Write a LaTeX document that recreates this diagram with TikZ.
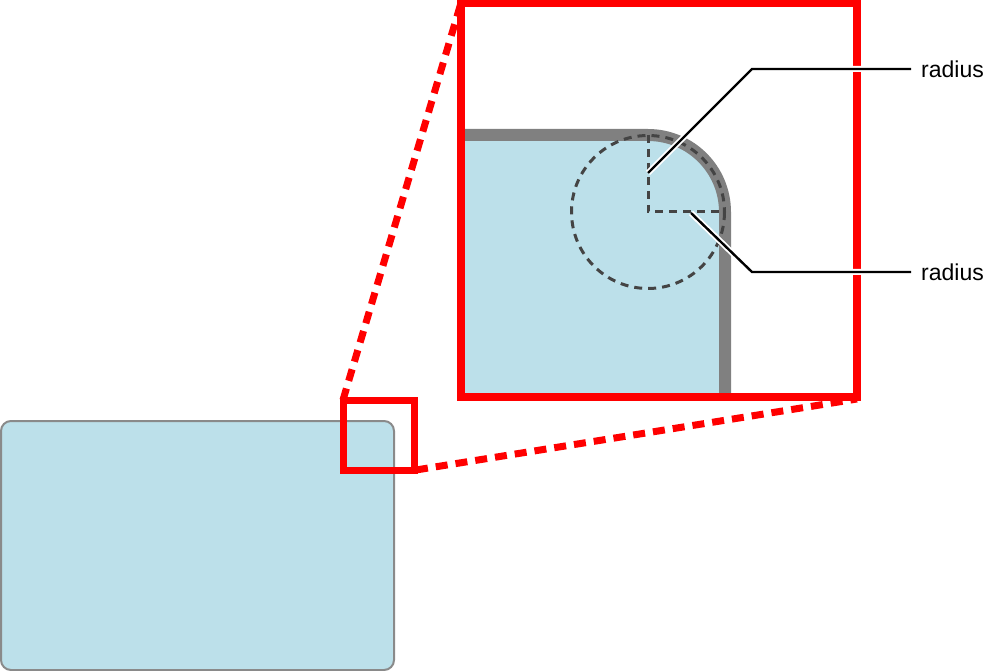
\documentclass[tikz,border=0pt]{standalone}
\usepackage{fontspec}
\setmainfont{Liberation Sans}
\definecolor{paleblue}{HTML}{BCE0EA}
\definecolor{edgegray}{HTML}{808080}
\definecolor{thingray}{HTML}{8A8A8A}
\definecolor{dashgray}{HTML}{444444}
\definecolor{zoomred}{HTML}{FF0000}
\tikzset{
  framebox/.style={draw=zoomred, line width=7.5pt},
  smallframe/.style={draw=zoomred, line width=7pt},
  zoomlink/.style={draw=zoomred, line width=7pt, dash pattern=on 12pt off 8pt},
  radiusdash/.style={draw=dashgray, line width=3pt, dash pattern=on 8pt off 6pt},
  leader/.style={preaction={draw=white, line width=6pt}, draw=black, line width=2.4pt},
  lbl/.style={font=\fontsize{23}{27}\selectfont, inner sep=0pt, anchor=west}
}
\begin{document}
\begin{tikzpicture}[x=1pt,y=-1pt]
\useasboundingbox (0,0) rectangle (986,671);
% small rounded rectangle
\draw[fill=paleblue, draw=thingray, line width=2pt, rounded corners=10pt] (1,421) rectangle (394,670);
% magnified corner
\begin{scope}
  \clip (461,3) rectangle (857,397);
  \fill[paleblue] (440,135) -- (648,135) .. controls (690.5,135) and (725,169.5) .. (725,212) -- (725,420) -- (440,420) -- cycle;
  \draw[edgegray, line width=12pt] (440,135) -- (648,135) .. controls (690.5,135) and (725,169.5) .. (725,212) -- (725,420);
\end{scope}
\coordinate (ctr) at (648,212);
\coordinate (top) at (648,135);
\coordinate (rgt) at (725,212);
\draw[radiusdash] (ctr) circle[radius=76.5];
\draw[radiusdash] (top) -- (ctr) -- (rgt);
% frames
\draw[framebox] (461,3) rectangle (857,397);
\draw[smallframe] (343,400) rectangle (414,470);
\coordinate (bigTL) at (461,3);
\coordinate (bigBR) at (857,399);
\coordinate (smTL) at (343,400);
\coordinate (smBR) at (416,470);
\draw[zoomlink] (smTL) -- (bigTL);
\draw[zoomlink] (smBR) -- (bigBR);
% labels and leaders
\node[lbl] (r1) at (921,69) {radius};
\node[lbl] (r2) at (921,272) {radius};
\coordinate (p1) at (648,173);
\coordinate (k1) at (752,69);
\coordinate (e1) at (911,69);
\coordinate (p2) at (691,213);
\coordinate (k2) at (752,272);
\coordinate (e2) at (911,272);
\draw[leader] (p1) -- (k1) -- (e1);
\draw[leader] (p2) -- (k2) -- (e2);
\end{tikzpicture}
\end{document}
